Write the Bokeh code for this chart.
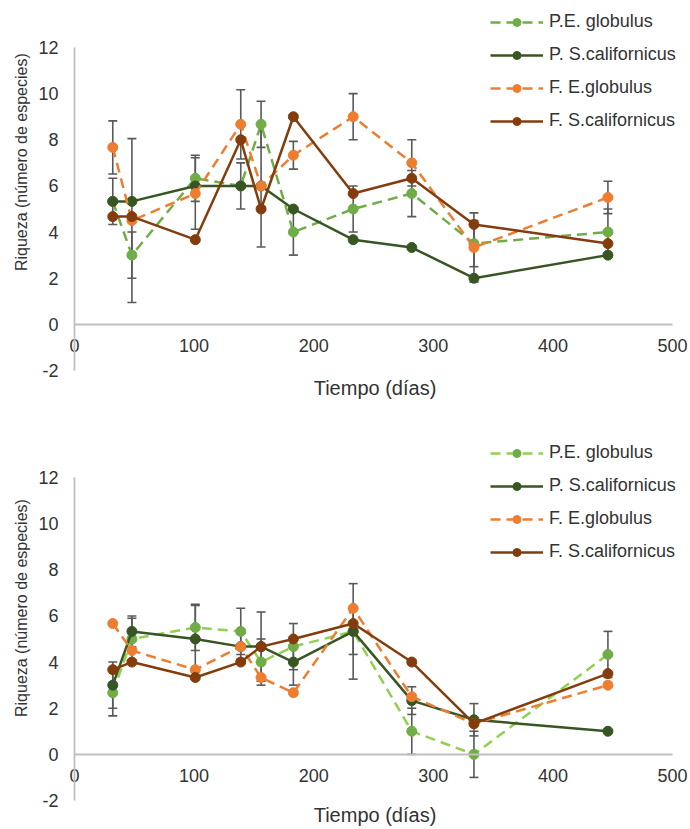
import math
from bokeh.plotting import figure
from bokeh.models import (Range1d, FixedTicker, ColumnDataSource, Whisker, TeeHead,
                          Legend, LegendItem, PrintfTickFormatter, Label)
from bokeh.layouts import column
from bokeh.embed import file_html
from bokeh.resources import INLINE

# ---- data ----
days = [32, 48, 101, 139, 156, 183, 233, 282, 334, 446]
x_ticks = [0, 100, 200, 300, 400, 500]
y_ticks = [-2, 0, 2, 4, 6, 8, 10, 12]
series_names = ["P.E. globulus", "P. S.californicus", "F. E.globulus", "F. S.californicus"]
x_title = "Tiempo (días)"
y_title = "Riqueza (número de especies)"

# top chart
top_pe_glob = [5.33, 3.0, 6.33, 6.0, 8.67, 4.0, 5.0, 5.67, 3.5, 4.0]
top_pe_glob_err = [1.0, 1.0, 1.0, 1.0, 1.0, 1.0, 1.0, 1.0, 1.0, 1.0]
top_ps_cal = [5.33, 5.33, 6.0, 6.0, 6.0, 5.0, 3.67, 3.33, 2.0, 3.0]
top_fe_glob = [7.67, 4.5, 5.67, 8.67, 6.0, 7.33, 9.0, 7.0, 3.33, 5.5]
top_fe_glob_err = [1.15, 3.55, 1.55, 1.5, 2.65, 0.6, 1.0, 1.0, 1.5, 0.7]
top_fs_cal = [4.67, 4.67, 3.67, 8.0, 5.0, 9.0, 5.67, 6.33, 4.33, 3.5]

# bottom chart
bot_pe_glob = [2.67, 5.0, 5.5, 5.33, 4.0, 4.67, 5.33, 1.0, 0.0, 4.33]
bot_pe_glob_err = [1.0, 0.9, 1.0, 1.0, 1.0, 1.0, 1.0, 1.0, 1.0, 1.0]
bot_ps_cal = [3.0, 5.33, 5.0, 4.67, 4.67, 4.0, 5.33, 2.33, 1.5, 1.0]
bot_ps_cal_err = [1.0, 0.67, 1.45, 0.55, 1.5, 1.0, 2.07, 0.6, 0.7, 0.0]
bot_fe_glob = [5.67, 4.5, 3.67, 4.67, 3.33, 2.67, 6.33, 2.5, 1.33, 3.0]
bot_fs_cal = [3.67, 4.0, 3.33, 4.0, 4.67, 5.0, 5.67, 4.0, 1.33, 3.5]

FONT = "Liberation Sans"
LIGHT_GREEN = "#70AD47"
DARK_GREEN = "#375623"
ORANGE = "#ED7D31"
BROWN = "#843C0C"
ERR = "#595959"
AXIS = "#BFBFBF"
TEXT = "#333333"

W = 690
X0_PX = 74.0                 # pixel of x = 0
PPX = 598.0 / 500.0          # pixels per day
PPY = 323.0 / 14.0           # pixels per species unit


def make_chart(height, y12_px, legend_bottom, ytitle_y, xtitle_y,
               values, errors, pe_line_color):
    # frame covers the whole canvas; axes are fixed at x=0 / y=0 and bounded
    x_start = -X0_PX / PPX
    x_end = (W - X0_PX) / PPX
    y_end = 12 + y12_px / PPY
    y_start = 12 - (height - y12_px) / PPY
    p = figure(width=W, height=height, output_backend="svg", toolbar_location=None,
               x_range=Range1d(x_start, x_end), y_range=Range1d(y_start, y_end),
               min_border_left=0, min_border_right=0,
               min_border_top=0, min_border_bottom=0)
    p.outline_line_color = None
    p.xgrid.visible = False
    p.ygrid.visible = False
    p.background_fill_color = "white"
    p.border_fill_color = "white"

    xa = p.xaxis[0]
    xa.fixed_location = 0
    xa.bounds = (0, 500)
    xa.ticker = FixedTicker(ticks=x_ticks)
    xa.major_label_text_font = FONT
    xa.major_label_text_font_size = "18px"
    xa.major_label_text_color = TEXT
    xa.major_label_standoff = 15
    xa.axis_line_color = AXIS
    xa.axis_line_width = 1.8
    xa.major_tick_line_color = None
    xa.minor_tick_line_color = None
    xa.major_tick_out = 0
    xa.major_tick_in = 0

    ya = p.yaxis[0]
    ya.fixed_location = 0
    ya.bounds = (-2, 12)
    ya.ticker = FixedTicker(ticks=y_ticks)
    ya.formatter = PrintfTickFormatter(format="%d")
    ya.major_label_text_font = FONT
    ya.major_label_text_font_size = "18px"
    ya.major_label_text_color = TEXT
    ya.major_label_standoff = 16
    ya.axis_line_color = AXIS
    ya.axis_line_width = 1.8
    ya.major_tick_line_color = None
    ya.minor_tick_line_color = None
    ya.major_tick_out = 0
    ya.major_tick_in = 0

    # axis titles
    p.add_layout(Label(x=(374.5 - X0_PX) / PPX, y=xtitle_y, text=x_title,
                       text_font=FONT, text_font_size="20px", text_color=TEXT,
                       text_align="center", text_baseline="middle"))
    p.add_layout(Label(x=(21 - X0_PX) / PPX, y=ytitle_y, text=y_title,
                       angle=math.pi / 2,
                       text_font=FONT, text_font_size="16px", text_color=TEXT,
                       text_align="center", text_baseline="middle"))

    styles = [
        (pe_line_color, LIGHT_GREEN, "10 6"),
        (DARK_GREEN, DARK_GREEN, "solid"),
        (ORANGE, ORANGE, "10 6"),
        (BROWN, BROWN, "solid"),
    ]
    items = []
    for name, vals, err, (lc, mc, dash) in zip(series_names, values, errors, styles):
        if err is not None:
            xs = [d for d, e in zip(days, err) if e > 0]
            up = [v + e for v, e in zip(vals, err) if e > 0]
            lo = [v - e for v, e in zip(vals, err) if e > 0]
            src = ColumnDataSource(dict(x=xs, upper=up, lower=lo))
            w = Whisker(source=src, base="x", upper="upper", lower="lower",
                        line_color=ERR, line_width=1.6, level="underlay",
                        upper_head=TeeHead(size=9, line_color=ERR, line_width=1.6),
                        lower_head=TeeHead(size=9, line_color=ERR, line_width=1.6))
            p.add_layout(w)
        src = ColumnDataSource(dict(x=days, y=vals))
        lr = p.line("x", "y", source=src, line_color=lc, line_width=2.5, line_dash=dash)
        sr = p.scatter("x", "y", source=src, size=10, fill_color=mc, line_color=mc)
        items.append(LegendItem(label=name, renderers=[lr, sr]))

    leg = Legend(items=items, location=(490, legend_bottom), orientation="vertical",
                 glyph_width=53, glyph_height=20, label_height=20,
                 label_standoff=6, spacing=12, padding=0, margin=0,
                 label_text_font=FONT, label_text_font_size="18px",
                 label_text_color=TEXT, background_fill_alpha=0,
                 border_line_color=None)
    p.add_layout(leg, "center")
    return p


p1 = make_chart(410, 47, 279, 7.03, -2.74,
                [top_pe_glob, top_ps_cal, top_fe_glob, top_fs_cal],
                [top_pe_glob_err, None, top_fe_glob_err, None], LIGHT_GREEN)
p2 = make_chart(419, 67, 267, 6.34, -2.65,
                [bot_pe_glob, bot_ps_cal, bot_fe_glob, bot_fs_cal],
                [bot_pe_glob_err, bot_ps_cal_err, None, None], "#92D050")

layout = column(p1, p2, spacing=0)
open("out.html", "w").write(file_html(layout, INLINE))
